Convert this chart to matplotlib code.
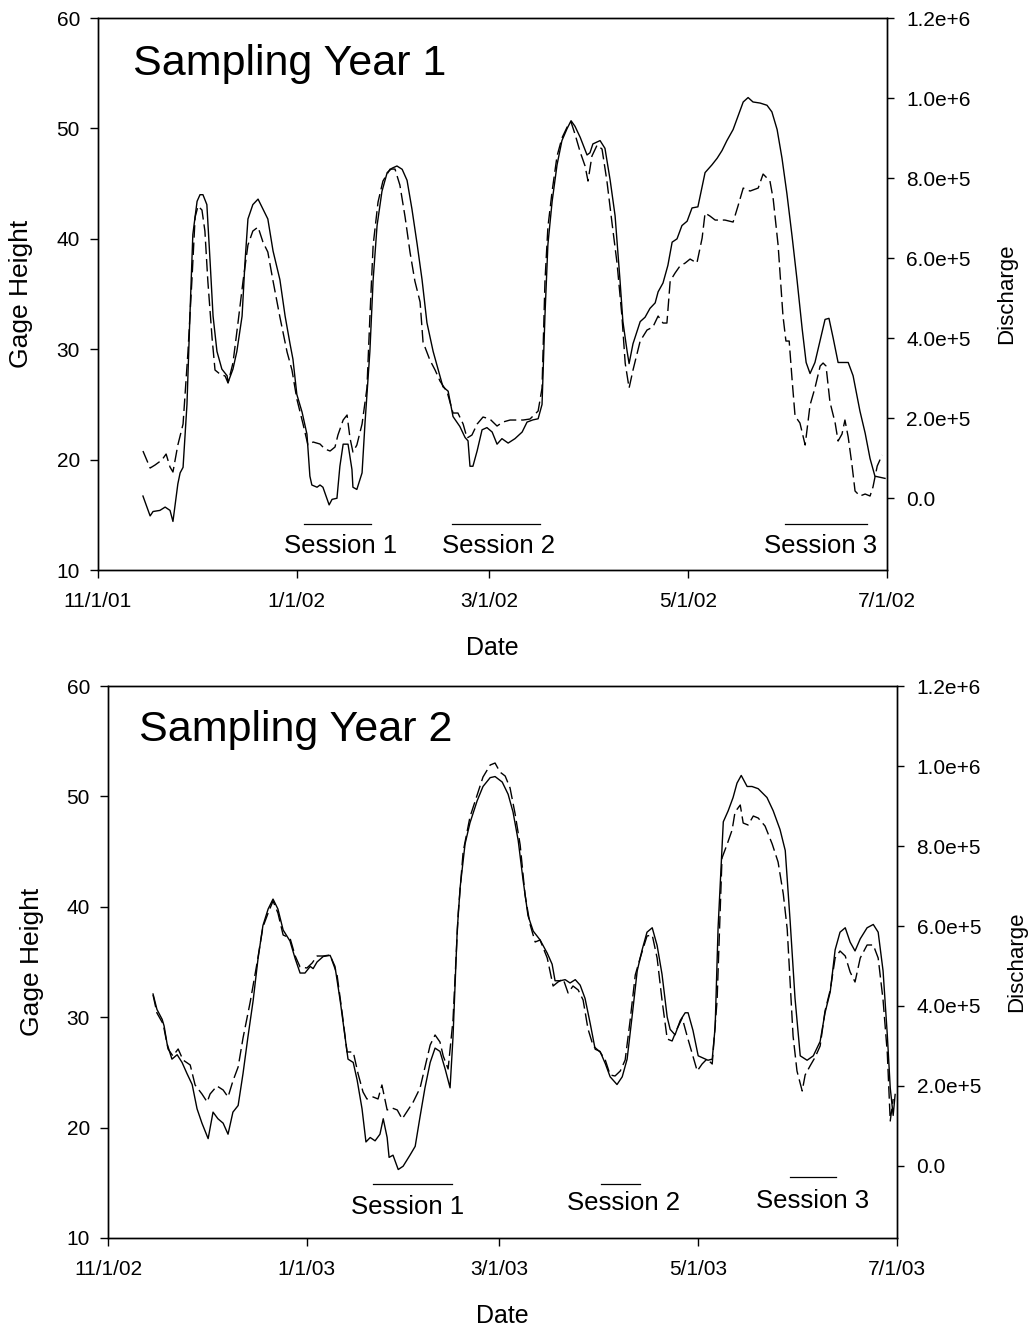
import numpy as np
import matplotlib
matplotlib.use("Agg")
import matplotlib.pyplot as plt
import matplotlib.dates as mdates

plt.rcParams['font.family'] = ['Liberation Sans', 'DejaVu Sans']

# ---------------------------------------------------------------------------
# Sampling year 1 (days counted from 1 Nov 2001)
# ---------------------------------------------------------------------------
y1_gage_day = [13.8, 16.0, 16.9, 19.0, 20.6, 22.1, 23.0, 24.5, 25.2, 26.1, 27.3, 28.2, 29.1, 30.4,
               31.3, 32.2, 33.4, 34.4, 35.3, 36.5, 38.0, 39.6, 39.9, 41.4, 42.6, 44.2, 45.1, 46.0,
               47.5, 49.1, 50.6, 52.1, 53.7, 55.8, 57.4, 58.9, 59.8, 61.0, 62.6, 64.1, 65.0, 65.6,
               67.2, 68.1, 69.0, 70.2, 70.9, 71.8, 73.3, 74.2, 75.2, 76.7, 77.9, 78.2, 79.4, 81.0,
               81.9, 83.4, 84.4, 85.6, 87.1, 88.7, 90.2, 91.7, 93.3, 94.8, 96.3, 97.9, 99.4, 100.9,
               102.8, 104.3, 105.8, 107.4, 108.9, 111.0, 112.6, 113.5, 114.1, 115.0, 116.3, 117.8,
               119.3, 120.9, 122.4, 123.9, 125.8, 127.9, 130.1, 131.6, 133.4, 135.0, 136.2, 137.1,
               138.0, 139.3, 140.8, 142.3, 143.9, 145.1, 146.3, 147.9, 150.0, 150.9, 151.8, 154.0,
               155.5, 157.1, 158.6, 160.1, 161.0, 162.3, 162.9, 164.1, 166.3, 167.8, 169.3, 170.9,
               171.8, 173.3, 174.8, 176.1, 177.6, 179.1, 180.7, 182.2, 184.0, 186.2, 188.3, 189.9,
               191.4, 192.9, 194.8, 196.3, 197.9, 199.4, 200.9, 203.1, 205.2, 206.7, 208.3, 209.8,
               211.3, 212.9, 214.4, 216.0, 217.2, 218.4, 219.9, 221.5, 223.0, 224.2, 225.5, 227.0,
               230.1, 231.6, 233.7, 235.3, 236.8, 238.3, 239.9, 241.4]
y1_gage = [16.7, 14.9, 15.3, 15.4, 15.7, 15.4, 14.4, 17.8, 18.8, 19.3, 25.0, 33.0, 40.4, 43.4,
           44.0, 44.0, 43.1, 37.9, 33.0, 29.8, 28.2, 27.6, 27.0, 28.2, 29.8, 33.0, 37.9, 41.8,
           43.1, 43.6, 42.7, 41.8, 38.9, 36.3, 33.0, 30.5, 29.1, 25.9, 24.3, 22.3, 18.5, 17.7,
           17.5, 17.7, 17.5, 16.5, 15.9, 16.4, 16.5, 19.4, 21.4, 21.4, 19.1, 17.5, 17.3, 18.8,
           23.3, 29.8, 36.3, 41.2, 44.3, 46.0, 46.4, 46.6, 46.3, 45.3, 42.7, 39.5, 36.3, 32.4,
           29.8, 28.2, 26.6, 26.2, 23.9, 23.0, 22.0, 21.7, 19.4, 19.4, 20.8, 22.7,
           22.9, 22.5, 21.4, 21.9, 21.5, 21.9, 22.5, 23.4, 23.6, 23.7, 25.0, 33.1,
           39.5, 43.4, 46.7, 48.9, 50.0, 50.7, 50.2, 49.2, 47.6, 47.8, 48.6, 48.9,
           48.2, 45.3, 42.1, 36.3, 32.5, 29.8, 28.7, 30.5, 32.5, 32.9, 33.7, 34.2,
           35.2, 36.0, 37.6, 39.7, 40.0, 41.2, 41.6, 42.8, 42.9, 46.0, 46.7, 47.3,
           48.0, 48.9, 49.9, 51.1, 52.4, 52.8, 52.4, 52.3, 52.1, 51.5, 49.9, 47.3,
           44.1, 40.2, 36.3, 31.8, 28.8, 27.8, 28.8, 30.8, 32.7, 32.8, 31.0, 28.8,
           28.8, 27.6, 24.4, 22.4, 20.1, 18.5, 18.4, 18.3]

y1_q_day = [13.8, 16.0, 17.5, 19.6, 20.9, 22.1, 23.0, 24.5, 26.1, 27.6, 28.8, 29.8, 30.7, 31.9,
            32.8, 33.7, 35.0, 35.9, 37.4, 39.0, 39.9, 41.4, 42.9, 44.5, 46.0, 47.5, 49.1, 50.6,
            52.1, 53.7, 55.8, 58.0, 59.5, 61.0, 62.9, 64.4, 66.0, 68.1, 69.6, 71.2, 72.7, 73.6,
            75.2, 76.4, 77.3, 78.2, 79.4, 81.0, 82.5, 83.4, 84.4, 85.9, 87.4, 89.6, 91.1, 92.6,
            94.2, 95.7, 97.2, 98.8, 99.7, 101.8, 103.4, 104.9, 107.1, 108.9, 110.4, 112.0, 113.2,
            114.7, 116.3, 118.1, 120.2, 122.4, 124.2, 126.4, 128.5, 130.4, 132.5, 135.0, 136.2,
            137.1, 138.0, 139.3, 140.8, 142.3, 143.9, 145.1, 146.3, 147.9, 149.4, 150.3, 151.5,
            153.1, 154.6, 156.1, 157.7, 159.2, 160.7, 161.7, 162.9, 164.1, 166.3, 168.4, 170.2,
            171.8, 173.3, 174.5, 175.5, 177.0, 178.5, 180.1, 181.6, 183.7, 185.3, 186.2, 187.7,
            189.3, 192.3, 194.8, 196.3, 197.9, 200.0, 202.5, 204.0, 206.1, 207.1, 208.6, 210.1,
            211.0, 212.0, 212.9, 213.8, 215.3, 216.9, 218.4, 219.9, 221.5, 222.4, 223.3, 224.5,
            226.1, 227.0, 228.2, 229.1, 230.1, 231.3, 232.2, 233.7, 235.3, 236.8, 237.7, 239.0,
            240.5]
y1_q = [117500, 75000, 82500, 95000, 110000, 77500, 65000, 132500, 185000, 365000, 542500,
        702500, 730000, 720000, 667500, 542500, 400000, 320000, 310000, 305000, 287500, 337500,
        435000, 542500, 632500, 667500, 677500, 640000, 615000, 542500, 452500, 365000, 320000,
        247500, 185000, 132500, 140000, 135000, 122500, 117500, 127500, 157500, 195000, 207500,
        150000, 115000, 132500, 185000, 275000, 452500, 632500, 740000, 792500, 822500, 822500,
        782500, 702500, 615000, 542500, 490000, 390000, 345000, 320000, 292500, 265000, 212500,
        212500, 185000, 150000, 157500, 185000, 202500, 197500, 180000, 190000, 195000, 195000,
        195000, 197500, 217500, 275000, 542500, 677500, 767500, 855000, 900000, 927500, 940000,
        910000, 865000, 830000, 792500, 855000, 882500, 872500, 792500, 685000, 587500, 455000,
        337500, 275000, 320000, 392500, 420000, 427500, 455000, 437500, 437500, 542500, 562500,
        580000, 587500, 597500, 587500, 650000, 712500, 705000, 695000, 695000, 690000, 730000,
        775000, 767500, 775000, 810000, 792500, 747500, 632500, 455000, 392500, 392500, 295000,
        205000, 187500, 132500, 232500, 275000, 330000, 337500, 330000, 240000, 187500, 142500,
        160000, 195000, 152500, 80000, 17500, 5000, 10000, 5000, 27500, 80000, 107500]

y1_sessions = [(63.2, 83.7), (108.6, 135.6), (210.7, 235.9)]
y1_session_mid = [74.5, 122.7, 221.5]

# ---------------------------------------------------------------------------
# Sampling year 2 (days counted from 1 Nov 2002)
# ---------------------------------------------------------------------------
y2_gage_day = [13.8, 15.0, 16.6, 17.2, 18.1, 19.6, 21.2, 22.7, 24.2, 25.8, 27.3, 28.8, 30.7, 32.2,
               33.7, 35.3, 36.8, 38.3, 39.9, 41.4, 42.9, 44.5, 46.0, 47.5, 49.1, 50.6, 52.1, 53.7,
               55.8, 57.4, 58.9, 60.4, 62.0, 62.9, 64.1, 66.0, 68.1, 69.6, 71.2, 72.7, 73.6, 75.2,
               76.4, 77.9, 79.1, 80.4, 81.9, 83.4, 84.4, 85.6, 86.2, 87.4, 89.0, 90.5, 92.6, 94.2,
               95.7, 97.2, 98.8, 100.3, 101.8, 103.4, 104.9, 105.8, 107.1, 108.0, 109.5, 111.0,
               113.2, 115.0, 117.2, 118.7, 120.9, 122.7, 124.2, 125.8, 127.3, 128.8, 130.4, 132.5,
               134.7, 136.2, 137.1, 138.7, 140.2, 141.7, 143.3, 144.8, 146.3, 147.9, 149.4, 150.9,
               152.5, 154.0, 156.1, 157.7, 159.2, 160.7, 162.3, 163.8, 165.3, 166.9, 168.4, 169.9,
               171.5, 172.4, 173.9, 175.5, 177.0, 177.9, 179.4, 181.0, 182.5, 184.0, 185.3, 186.2,
               187.1, 188.7, 190.2, 191.7, 192.9, 194.2, 196.0, 197.5, 199.4, 202.1, 204.0, 206.1,
               207.7, 209.2, 210.7, 212.3, 214.4, 216.3, 218.4, 219.9, 221.5, 223.0, 224.5, 226.1,
               227.6, 229.1, 230.7, 232.8, 234.7, 236.2, 237.7, 239.0, 239.9, 240.8, 241.4]
y2_gage = [32.1, 30.7, 29.8, 29.2, 27.6, 26.2, 26.6, 25.9, 24.9, 23.9, 21.7, 20.4, 19.0, 21.4,
           20.8, 20.4, 19.4, 21.4, 22.0, 24.9, 28.2, 31.5, 35.3, 38.3, 39.8, 40.7, 39.8, 37.9,
           36.9, 35.3, 34.0, 34.0, 34.6, 34.4, 35.0, 35.5, 35.6, 34.6, 31.5, 28.2, 26.2, 25.9,
           24.3, 21.7, 18.7, 19.1, 18.8, 19.4, 20.8, 19.1, 17.3, 17.5, 16.2, 16.5, 17.5, 18.3,
           21.0, 23.6, 25.9, 27.2, 26.9, 25.3, 23.6, 28.2, 37.9, 41.8, 45.7, 47.6,
           49.6, 50.9, 51.7, 51.8, 51.3, 50.2, 48.6, 46.0, 42.4, 39.2, 37.8, 37.0,
           35.8, 34.8, 33.3, 33.3, 33.4, 33.1, 33.4, 32.9, 31.7, 29.4, 27.1, 26.9,
           25.8, 24.6, 23.9, 24.6, 26.2, 30.0, 34.2, 36.1, 37.7, 38.1, 36.5, 33.9,
           30.0, 28.9, 28.4, 29.7, 30.4, 30.4, 28.8, 26.5, 26.3, 26.1, 26.2, 29.1,
           38.1, 47.7, 48.7, 49.9, 51.2, 51.9, 50.9, 50.9, 50.7, 49.9, 48.7, 47.0,
           45.1, 38.7, 31.7, 26.5, 26.1, 26.5, 27.8, 30.4, 32.3, 36.1, 37.7, 38.1,
           36.8, 36.0, 37.1, 38.1, 38.4, 37.7, 34.2, 28.4, 23.6, 21.1, 23.0]

y2_q_day = [13.8, 15.0, 16.9, 18.4, 19.9, 21.5, 23.0, 25.2, 26.7, 28.8, 30.4, 31.3, 33.4, 35.3,
            36.8, 38.3, 39.9, 41.4, 43.6, 45.7, 47.5, 49.1, 50.6, 52.1, 53.7, 55.8, 57.4, 58.9,
            61.0, 62.6, 64.1, 66.0, 68.1, 70.2, 71.8, 73.3, 75.2, 76.7, 78.2, 79.4, 81.3, 82.8,
            84.0, 85.6, 87.1, 88.7, 90.2, 92.0, 93.6, 95.7, 97.2, 98.8, 100.3, 101.8, 102.8,
            104.3, 105.8, 107.4, 108.9, 111.0, 113.2, 115.0, 117.2, 118.7, 120.2, 121.8, 123.3,
            124.8, 126.4, 127.9, 129.4, 131.0, 132.5, 134.7, 136.5, 138.0, 139.6, 141.1, 142.6,
            144.2, 145.7, 147.2, 148.8, 150.9, 152.5, 154.0, 155.5, 157.1, 158.6, 160.1, 161.7,
            163.2, 165.3, 166.9, 168.4, 169.9, 171.5, 173.0, 174.5, 176.1, 177.6, 179.1, 180.7,
            182.2, 183.7, 185.3, 186.8, 188.3, 189.9, 191.4, 192.3, 193.9, 194.8, 196.3, 197.9,
            199.4, 201.5, 203.7, 205.5, 207.1, 208.3, 209.2, 210.1, 211.3, 212.9, 213.8, 215.3,
            216.9, 218.4, 219.9, 221.5, 223.0, 224.5, 226.1, 227.6, 229.1, 230.7, 232.8, 234.7,
            236.2, 237.7, 239.0, 239.9, 240.8]
y2_q = [427500, 382500, 355000, 292500, 275000, 292500, 265000, 252500, 202500, 180000, 160000,
        180000, 200000, 190000, 172500, 212500, 247500, 320000, 410000, 507500, 597500, 632500,
        662500, 632500, 577500, 570000, 525000, 497500, 495000, 507500, 525000, 525000, 527500,
        480000, 382500, 285000, 285000, 230000, 185000, 167500, 172500, 167500, 202500, 140000,
        145000, 140000, 117500, 140000, 160000, 195000, 247500, 302500, 327500, 310000, 275000,
        242500, 365000, 632500, 785000, 872500, 927500, 972500, 1002500, 1007500, 985000,
        975000, 945000, 882500, 802500, 677500, 605000, 560000, 565000, 520000, 450000, 460000,
        467500, 432500, 450000, 440000, 415000, 342500, 300000, 285000, 265000, 227500, 225000,
        237500, 265000, 362500, 477500, 520000, 575000, 577500, 520000, 415000, 317500, 312500,
        342500, 370000, 325000, 282500, 237500, 255000, 267500, 255000, 415000, 770000, 805000,
        840000, 885000, 902500, 857500, 852500, 875000, 870000, 850000, 805000, 760000, 680000,
        592500, 460000, 325000, 237500, 187500, 227500, 250000, 272500, 300000, 387500, 440000,
        520000, 537500, 525000, 485000, 460000, 520000, 552500, 552500, 520000, 415000, 282500,
        112500, 167500]

y2_sessions = [(81.3, 105.5), (151.2, 163.2), (209.2, 223.3)]
y2_session_mid = [92.0, 158.1, 216.1]

# Axis tick positions and labels
y1_tick_dates = ['2001-11-01', '2002-01-01', '2002-03-01', '2002-05-01', '2002-07-01']
y1_tick_labels = ['11/1/01', '1/1/02', '3/1/02', '5/1/02', '7/1/02']
y2_tick_dates = ['2002-11-01', '2003-01-01', '2003-03-01', '2003-05-01', '2003-07-01']
y2_tick_labels = ['11/1/02', '1/1/03', '3/1/03', '5/1/03', '7/1/03']
gage_ticks = [10, 20, 30, 40, 50, 60]
q_ticks = [0, 200000, 400000, 600000, 800000, 1000000, 1200000]
q_tick_labels = ['0.0', '2.0e+5', '4.0e+5', '6.0e+5', '8.0e+5', '1.0e+6', '1.2e+6']
session_names = ['Session 1', 'Session 2', 'Session 3']


def draw_year(fig, rect, start, tick_dates, tick_labels, gage_day, gage, q_day, q,
              sessions, session_mid, title, title_xy, line_y, label_y):
    ax = fig.add_axes(rect)
    ax2 = ax.twinx()
    base = mdates.date2num(np.datetime64(start))

    ax.plot(base + np.array(gage_day), gage, color='black', lw=1.0, solid_joinstyle='round')
    ax2.plot(base + np.array(q_day), q, color='black', lw=1.0, ls=(0, (9, 3.5)))

    ticks = [mdates.date2num(np.datetime64(d)) for d in tick_dates]
    ax.set_xlim(ticks[0], ticks[-1])
    ax.set_xticks(ticks)
    ax.set_xticklabels(tick_labels)
    ax.set_ylim(10, 60)
    ax.set_yticks(gage_ticks)
    ax2.set_ylim(-180000, 1200000)
    ax2.set_yticks(q_ticks)
    ax2.set_yticklabels(q_tick_labels)

    for a in (ax, ax2):
        for sp in a.spines.values():
            sp.set_linewidth(1.0)
    ax.tick_params(axis='x', direction='out', length=6, width=1, labelsize=15, pad=10)
    ax.tick_params(axis='y', direction='out', length=6, width=1, labelsize=15, pad=7)
    ax2.tick_params(axis='y', direction='out', length=5, width=1, labelsize=15, pad=9)

    ax.set_ylabel('Gage Height', fontsize=19)
    ax.yaxis.set_label_coords(-0.097, 0.5)
    ax.yaxis.label.set_va('center')
    ax.set_xlabel('Date', fontsize=18)
    ax.xaxis.set_label_coords(0.5, -0.141)
    ax.xaxis.label.set_va('center')
    ax2.set_ylabel('Discharge', fontsize=16)
    ax2.yaxis.set_label_coords(1.152, 0.5)
    ax2.yaxis.label.set_va('center')

    ax.text(title_xy[0], title_xy[1], title, transform=ax.transAxes, fontsize=31,
            ha='left', va='baseline')

    for (d0, d1), mid, name, ly, ty in zip(sessions, session_mid, session_names, line_y, label_y):
        ax.plot([base + d0, base + d1], [ly, ly], color='black', lw=0.9)
        ax.text(base + mid, ty, name, fontsize=18.5, ha='center', va='baseline')


fig = plt.figure(figsize=(10.29, 13.29), dpi=100)

draw_year(fig, [0.0952, 0.5711, 0.7668, 0.4153], '2001-11-01', y1_tick_dates, y1_tick_labels,
          y1_gage_day, y1_gage, y1_q_day, y1_q, y1_sessions, y1_session_mid,
          'Sampling Year 1', (0.044, 0.897), [14.2, 14.2, 14.2], [11.55, 11.55, 11.55])

draw_year(fig, [0.1050, 0.0685, 0.7668, 0.4153], '2002-11-01', y2_tick_dates, y2_tick_labels,
          y2_gage_day, y2_gage, y2_q_day, y2_q, y2_sessions, y2_session_mid,
          'Sampling Year 2', (0.039, 0.900), [14.9, 14.9, 15.5], [12.2, 12.5, 12.7])

fig.savefig('out.png', dpi=100)
